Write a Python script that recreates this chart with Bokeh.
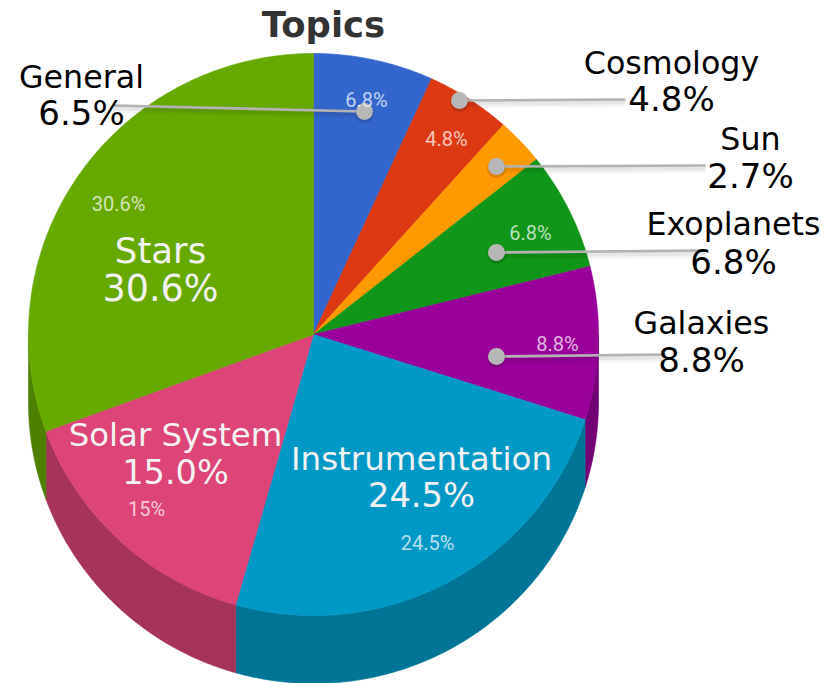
import numpy as np
from bokeh.plotting import figure
from bokeh.embed import file_html
from bokeh.resources import INLINE
from bokeh.core.properties import value

# ---- data ----
topics = ["General", "Cosmology", "Sun", "Exoplanets", "Galaxies", "Instrumentation", "Solar System", "Stars"]
slice_values = [6.8, 4.8, 2.7, 6.8, 8.8, 24.5, 15.0, 30.6]
outer_values = ["6.5%", "4.8%", "2.7%", "6.8%", "8.8%", "24.5%", "15.0%", "30.6%"]
inner_values = ["6.8%", "4.8%", "", "6.8%", "8.8%", "24.5%", "15%", "30.6%"]

# ---- styles ----
top_colors = ["#3366cc", "#dc3912", "#ff9900", "#109618", "#990099", "#0099c6", "#dd4477", "#66aa00"]
side_colors = ["#264d99", "#a52b0e", "#bf7300", "#0c7112", "#730073", "#007595", "#a63359", "#4d8000"]

# ---- layout (pixel space of the picture) ----
CX, CY, RX, RY, DEPTH = 313.0, 334.0, 285.0, 281.0, 68.0

# name label: centre x, name baseline, share baseline, name size, share size
label_pos = {
    "General": (81, 87, 124, 31.7, 34),
    "Cosmology": (671, 73, 110, 31.7, 34),
    "Sun": (750, 149, 187, 31.7, 34),
    "Exoplanets": (733, 234, 273, 31.7, 34),
    "Galaxies": (701, 333, 371, 31.7, 34),
    "Instrumentation": (421, 470, 507, 32.5, 33.7),
    "Solar System": (175, 446, 484, 32.4, 33.6),
    "Stars": (160, 262, 301, 35.5, 36.5),
}
# small inside labels: centre x, centre y
inner_pos = [(366, 99), (446, 138), None, (530, 232), (557, 343), (427, 542), (146, 508), (118, 203)]
# leaders: dot x, dot y, end x, end y
leaders = [
    (364, 111, 113, 105),
    (459, 100, 625, 99),
    (496, 166, 705, 165),
    (496, 252, 705, 250),
    (496, 356, 665, 354),
]
CENTRAL = 0.346  # central baseline above the alphabetic one, in em

p = figure(width=828, height=683, x_range=(0, 828), y_range=(683, 0),
           output_backend="svg", toolbar_location=None, min_border=0)
p.axis.visible = False
p.grid.visible = False
p.outline_line_color = None
p.background_fill_color = "white"
p.border_fill_color = "white"

bounds = np.concatenate([[0], np.cumsum(slice_values)]) / sum(slice_values) * 2 * np.pi


def arc(a0, a1):
    t = np.linspace(a0, a1, max(4, int((a1 - a0) * 120)))
    return CX + RX * np.sin(t), CY - RY * np.cos(t)


# extruded rim, only for the part of a slice that faces the viewer
for i in range(len(slice_values)):
    a0 = max(bounds[i], np.pi / 2)
    a1 = min(bounds[i + 1], 3 * np.pi / 2)
    if a1 <= a0:
        continue
    x, y = arc(a0, a1)
    px = np.concatenate([x, x[::-1]])
    py = np.concatenate([y, (y + DEPTH)[::-1]])
    p.patch(px, py, fill_color=side_colors[i], line_color=side_colors[i], line_width=0.6)

# top face
for i in range(len(slice_values)):
    x, y = arc(bounds[i], bounds[i + 1])
    px = np.concatenate([[CX], x])
    py = np.concatenate([[CY], y])
    p.patch(px, py, fill_color=top_colors[i], line_color=top_colors[i], line_width=0.6)

# leader lines with their soft shadows
for dx, dy, ex, ey in leaders:
    for off, w, a in [(3, 9, 0.04), (2.5, 5, 0.06)]:
        p.line([dx, ex], [dy + off, ey + off], line_color="black", line_width=w, line_alpha=a)
    p.line([dx, ex], [dy, ey], line_color="#b3b3b3", line_width=2.6)
    p.scatter([dx], [dy + 2], size=19, marker="circle", fill_color="black", fill_alpha=0.14, line_color=None)
    p.scatter([dx], [dy], size=17, marker="circle", fill_color="#b7b7b7", line_color=None)

# small inside labels
for txt, pos in zip(inner_values, inner_pos):
    if pos is None:
        continue
    p.text([pos[0]], [pos[1]], text=[txt], text_font=value("Roboto"),
           text_font_size="20px", text_color="white", text_alpha=0.72,
           text_align="center", text_baseline="middle")

# name and share labels
for name, share in zip(topics, outer_values):
    lx, y1, y2, s1, s2 = label_pos[name]
    inside = name in ("Instrumentation", "Solar System", "Stars")
    color = "#f2f2f2" if inside else "#000000"
    for txt, base, size in ((name, y1, s1), (share, y2, s2)):
        p.text([lx], [base - CENTRAL * size], text=[txt], text_font=value("DejaVu Sans"),
               text_font_size=f"{size}px", text_color=color,
               text_align="center", text_baseline="middle")

# title
p.text([323], [36 - CENTRAL * 35.4], text=["Topics"], text_font=value("DejaVu Sans"), text_font_style="bold",
       text_font_size="35.4px", text_color="#333333", text_align="center", text_baseline="middle")

open("out.html", "w").write(file_html(p, INLINE))
